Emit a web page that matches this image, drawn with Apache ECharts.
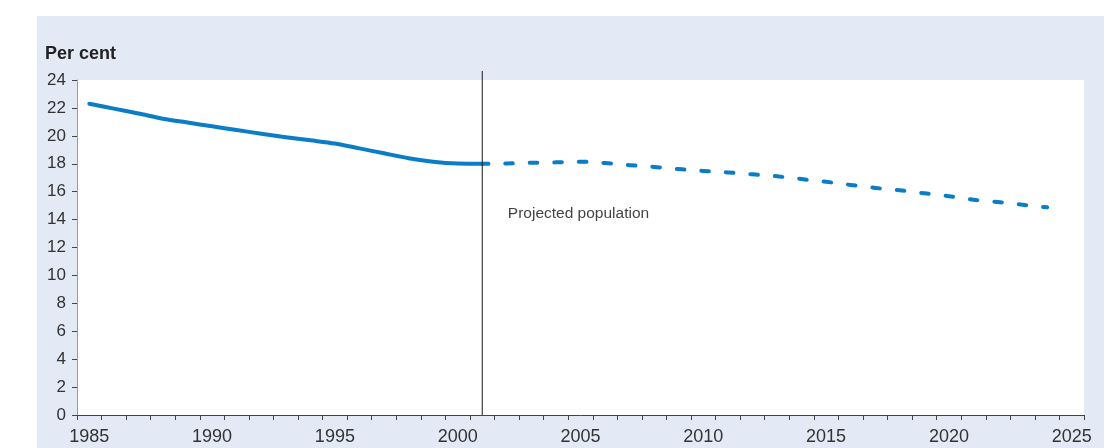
<!DOCTYPE html>
<html>
<head>
<meta charset="utf-8">
<script src="https://cdn.jsdelivr.net/npm/echarts@6/dist/echarts.min.js"></script>
<style>
  html, body { margin: 0; padding: 0; background: #ffffff; width: 1104px; height: 448px; overflow: hidden; }
  #chart { position: absolute; left: 37px; top: 16px; width: 1067px; height: 432px; background: #e3e9f5; }
</style>
</head>
<body>
<div id="chart"></div>
<script>
// ---- Data ----
const years = [];
for (let y = 1985; y <= 2025; y++) years.push(String(y));

// Actual share (per cent), 1985-2001
const actualYears = ['1985','1986','1987','1988','1989','1990','1991','1992','1993','1994','1995','1996','1997','1998','1999','2000','2001'];
const actualValues = [22.3, 21.95, 21.6, 21.23, 20.95, 20.68, 20.42, 20.15, 19.9, 19.68, 19.45, 19.1, 18.75, 18.4, 18.15, 18.02, 18.0];

// Projected share (per cent), 2001-2024
const projYears = ['2001','2002','2003','2004','2005','2006','2007','2008','2009','2010','2011','2012','2013','2014','2015','2016','2017','2018','2019','2020','2021','2022','2023','2024'];
const projValues = [18.0, 18.02, 18.07, 18.1, 18.15, 18.05, 17.9, 17.77, 17.62, 17.48, 17.38, 17.24, 17.1, 16.9, 16.71, 16.48, 16.27, 16.1, 15.88, 15.67, 15.42, 15.26, 15.06, 14.88];

const yTicks = { min: 0, max: 24, interval: 2 };
const dividerYear = '2001';
const annotation = { text: 'Projected population', year: '2002', value: 14.4 };

// ---- Build ----
const FONT = '"Liberation Sans", Arial, Helvetica, sans-serif';
const lineColor = '#0a7dc6';

function toSeriesData(ys, vs) {
  const m = {};
  ys.forEach((y, i) => m[y] = vs[i]);
  return years.map(y => (y in m ? m[y] : null));
}

const chart = echarts.init(document.getElementById('chart'), null, { renderer: 'canvas' });
chart.setOption({
  animation: false,
  textStyle: { fontFamily: FONT },
  title: {
    text: 'Per cent', left: 8, top: 29, padding: 0,
    textStyle: { fontSize: 18, fontWeight: 'bold', color: '#222', fontFamily: FONT }
  },
  grid: [
    { left: 40, right: 20, top: 64, bottom: 33, show: true, backgroundColor: '#ffffff', borderWidth: 0 },
    { left: 40, right: 20, top: 55, bottom: 33, show: false }
  ],
  xAxis: [
    {
      type: 'category', gridIndex: 0, data: years, boundaryGap: true,
      axisLine: { show: true, lineStyle: { color: '#444', width: 1 } },
      axisTick: { show: true, interval: 0, length: 5, lineStyle: { color: '#444' } },
      axisLabel: { interval: 4, fontSize: 18, color: '#333', margin: 13, fontFamily: FONT },
      splitLine: { show: false }
    },
    { type: 'category', gridIndex: 1, data: years, boundaryGap: true, show: false }
  ],
  yAxis: [
    {
      type: 'value', gridIndex: 0, min: yTicks.min, max: yTicks.max, interval: yTicks.interval,
      axisLine: { show: true, lineStyle: { color: '#9a9a9a', width: 1 } },
      axisTick: { show: true, length: 5, lineStyle: { color: '#444' } },
      axisLabel: { fontSize: 17, color: '#333', margin: 11, fontFamily: FONT },
      splitLine: { show: false }
    },
    { type: 'value', gridIndex: 1, min: 0, max: 1, show: false }
  ],
  series: [
    {
      type: 'line', xAxisIndex: 0, yAxisIndex: 0,
      data: toSeriesData(actualYears, actualValues),
      smooth: 0.3, symbol: 'none', z: 3,
      lineStyle: { color: lineColor, width: 4, cap: 'round', join: 'round' }
    },
    {
      type: 'line', xAxisIndex: 0, yAxisIndex: 0,
      data: toSeriesData(projYears, projValues),
      smooth: 0.3, symbol: 'none', z: 3,
      lineStyle: { color: lineColor, width: 4, type: [8, 16.56], dashOffset: 1.8, cap: 'round', join: 'round' },
      markPoint: {
        symbol: 'circle', symbolSize: 0, silent: true,
        data: [{ coord: [annotation.year, annotation.value], value: annotation.text }],
        label: {
          show: true, position: 'right', distance: 1,
          formatter: annotation.text, fontSize: 15.5, color: '#444', fontFamily: FONT
        }
      }
    },
    {
      type: 'line', xAxisIndex: 1, yAxisIndex: 1, silent: true, z: 6,
      data: [[dividerYear, 0], [dividerYear, 1]],
      symbol: 'none',
      lineStyle: { color: '#1a1a1a', width: 1 }
    }
  ]
});
</script>
</body>
</html>
